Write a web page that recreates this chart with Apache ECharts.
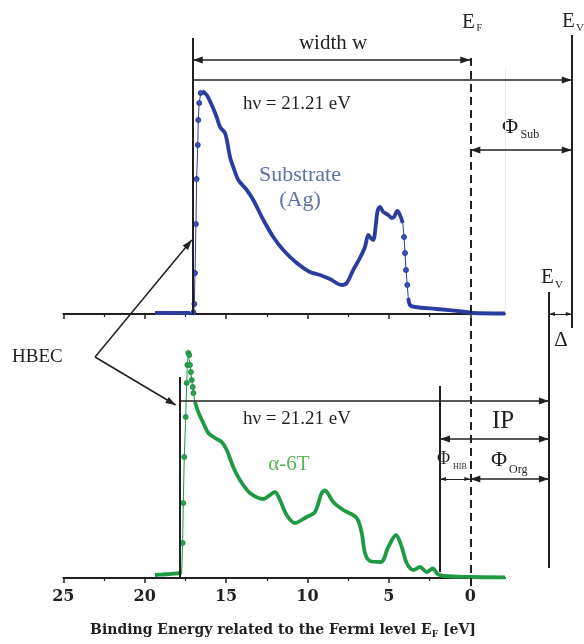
<!DOCTYPE html>
<html><head><meta charset="utf-8">
<script src="https://cdn.jsdelivr.net/npm/echarts@6/dist/echarts.min.js"></script>
<style>html,body{margin:0;padding:0;background:#fff}#c{width:584px;height:644px}</style>
</head><body><div id="c"></div>
<script>
// ---- data (binding energy in eV, intensity in arb. units) ----
const agEnergy = [19.37,18.8,18.14,17.6,17.22,17.01,16.95,16.91,16.85,16.81,16.74,16.71,16.65,16.56,16.46,16.19,15.88,15.58,15.37,15.07,14.93,14.76,14.56,14.25,13.73,13.33,12.71,12.10,11.49,10.66,9.85,9.23,8.62,7.90,7.59,7.19,6.78,6.47,6.27,6.12,5.96,5.79,5.71,5.55,5.34,5.04,4.83,4.69,4.48,4.32,4.15,4.07,4.01,3.95,3.87,3.81,3.70,3.40,2.06,0.22,-0.18,-2.13];
const agIntensity = [1,1,1.2,1,1,1.7,10,41,90,135,169,194,211,221,223,219,209,197,187,181,172,157,147,134,124,114,94,77,64,51,42,39,35,29,31,44,56,67,79,76,74,91,102,107,102,99,96,97,103,99,91,77,61,44,29,16,9,7,5,2,1,0.5];
const t6Energy = [19.37,18.9,18.46,18.0,17.73,17.67,17.63,17.57,17.48,17.42,17.38,17.32,17.26,17.22,17.16,17.11,17.05,17.01,16.91,16.71,16.40,16.09,15.68,15.27,14.96,14.56,14.15,13.53,12.71,12.30,12.00,11.69,11.28,10.77,10.05,9.54,9.13,8.93,8.42,7.80,6.98,6.67,6.47,6.16,5.48,5.04,4.56,4.21,3.91,3.50,3.09,2.68,2.31,2.01,1.66,0.02,-2.13];
const t6Intensity = [3,3.5,4,4.6,5.3,35,75,121,161,195,213,225,223,213,206,198,191,185,176,166,155,145,140,136,128,111,98,85,79,83,86,78,63,55,61,66,85,87.5,76,68,60,45,25,17,16,31,43,31,15,8,11,6,9.5,4,2,1,0.7];
const majorTicks = [25,20,15,10,5,0];
const minorTicks = [22.5,17.5,12.5,7.5,2.5];
// energy levels (eV relative to E_F)
const levelEF = 0;
const levelEvacSub = -6.23;
const levelEvacOrg = -4.83;
const cutoffSub = 17.05;
const cutoffOrg = 17.83;
const hibEdge = 1.86;
const hbecLabelE = 23.05;
const agSparse = [[16.5,17.1],[3.84,4.1]];
const t6Sparse = [[17.0,17.72]];

// ---- styling / layout ----
const ink = '#231f20';
const K = 16.28, X25 = 63.3, EMIN = -2.13;
const inR = (e, rs) => rs.some(r => e > r[0] && e < r[1]);
const pairs = (E, I) => E.map((e, i) => [e, I[i]]);
const thick = (E, I, rs) => E.map((e, i) => [e, inR(e, rs) ? '-' : I[i]]);

function xAxes(gi, labels) {
  return [{
    type:'value', gridIndex:gi, inverse:true, min:EMIN, max:25, position:'bottom',
    axisLine:{show:true, onZero:false, lineStyle:{color:ink, width:2}},
    axisTick:{show:true, customValues:majorTicks, length:5, lineStyle:{color:ink, width:1.5}},
    axisLabel:{show:labels, customValues:majorTicks, fontFamily:'DejaVu Serif', fontWeight:'bold', fontSize:16, color:ink, margin:11},
    splitLine:{show:false}
  },{
    type:'value', gridIndex:gi, inverse:true, min:EMIN, max:25, position:'bottom',
    axisLine:{show:false},
    axisTick:{show:true, customValues:minorTicks, length:3, lineStyle:{color:ink, width:1.2}},
    axisLabel:{show:false}, splitLine:{show:false}
  }];
}
const yAx = (gi, max, inv) => ({type:'value', gridIndex:gi, min:0, max:max, inverse:!!inv, show:false, splitLine:{show:false}});

function spec(E, I, rs, xi, yi, thickColor, dotColor, edgeColor) {
  return [{
    type:'line', xAxisIndex:xi, yAxisIndex:yi, data:thick(E, I, rs), connectNulls:false,
    smooth:0.3,
    showSymbol:false, symbol:'none', lineStyle:{color:thickColor, width:3.8}, silent:true, z:2
  },{
    type:'line', xAxisIndex:xi, yAxisIndex:yi, data:pairs(E, I),
    showSymbol:true, symbol:'circle',
    symbolSize:(v, p) => inR(E[p.dataIndex], rs) ? 5 : 0,
    itemStyle:{color:dotColor, borderColor:edgeColor, borderWidth:0.8},
    lineStyle:{color:thickColor, width:1}, silent:true, z:3
  }];
}

const endSym = k => k === 'big' ? {symbol:'triangle', symbolSize:[7,10], symbolOffset:[0,'50%']}
  : k === 'small' ? {symbol:'triangle', symbolSize:[4,6], symbolOffset:[0,'50%']}
  : {symbol:'none'};
const seg = (x1, y1, x2, y2, from, to, w, dash, col) => [
  Object.assign({coord:[x1,y1], lineStyle:{color:col||ink, width:w, type:dash||'solid', opacity:1}}, endSym(from)),
  Object.assign({coord:[x2,y2]}, endSym(to))
];
const annot = [
  seg(EMIN,67,EMIN,313,'none','none',1,'solid','#ececec'),
  seg(cutoffSub,38,cutoffSub,314,'none','none',2),
  seg(levelEvacSub,35,levelEvacSub,328,'none','none',2),
  seg(levelEvacOrg,292,levelEvacOrg,568,'none','none',2),
  seg(cutoffOrg,377,cutoffOrg,578,'none','none',2),
  seg(hibEdge,386,hibEdge,572,'none','none',2),
  seg(levelEF,58,levelEF,590,'none','none',2,[8,5]),
  seg(cutoffSub,60,levelEF,60,'big','big',1.5),
  seg(cutoffSub,80,levelEvacSub,80,'none','big',1.5),
  seg(levelEF,150,levelEvacSub,150,'big','big',1.5),
  seg(levelEvacOrg,314,levelEvacSub,314,'small','small',1),
  seg(cutoffOrg,401,levelEvacOrg,401,'none','big',1.5),
  seg(hibEdge,439,levelEvacOrg,439,'big','big',1.5),
  seg(hibEdge,479,levelEF,479,'small','small',1),
  seg(levelEF,479,levelEvacOrg,479,'big','big',1.5),
  seg(hbecLabelE,357,17.11,240,'none','big',1.5),
  seg(hbecLabelE,357,18.10,405,'none','big',1.5)
];

const subBlue = '#5b73a8', labGreen = '#5bb35a';
const texts = [
  ['width w',333,43,21,'center'],
  ['E',462,22,21], ['F',476.5,28,10],
  ['E',562,21,21], ['V',576,28,11],
  ['hν = 21.21 eV',243,104,19],
  ['Φ',502,127,22], ['Sub',520.5,135,12],
  ['Substrate',300,175,22,'center',subBlue], ['(Ag)',300,200,22,'center',subBlue],
  ['E',541,277,21], ['V',555,285,11],
  ['Δ',561,340,21,'center'],
  ['HBEC',12,357,19],
  ['hν = 21.21 eV',243,419,19],
  ['IP',492,421,25],
  ['α-6T',289,464,21,'center',labGreen],
  ['Φ',437,459,18], ['HIB',453,467,8],
  ['Φ',491,460,22], ['Org',509,470,12]
];
const gElems = texts.map(t => ({
  type:'text', x:t[1], y:t[2], silent:true,
  style:{text:t[0], fill:t[5]||ink, font:t[3]+'px "Liberation Serif"', align:t[4]||'left', verticalAlign:'middle'}
}));
gElems.push({
  type:'text', x:283, y:630, silent:true,
  style:{
    text:'{m|Binding Energy related to the Fermi level E}{s|F}{m| [eV]}',
    align:'center', verticalAlign:'middle',
    rich:{
      m:{fontFamily:'DejaVu Serif', fontWeight:'bold', fontSize:14, fill:ink, lineHeight:18},
      s:{fontFamily:'DejaVu Serif', fontWeight:'bold', fontSize:9, fill:ink, lineHeight:8, verticalAlign:'bottom'}
    }
  }
});

const chart = echarts.init(document.getElementById('c'), null, {renderer:'canvas'});
chart.setOption({
  animation:false,
  backgroundColor:'#ffffff',
  grid:[
    {left:X25, top:14, width:(25-EMIN)*K, height:300, outerBoundsMode:'none', containLabel:false},
    {left:X25, top:278, width:(25-EMIN)*K, height:300, outerBoundsMode:'none', containLabel:false},
    {left:X25, top:0, width:32*K, height:644, outerBoundsMode:'none', containLabel:false}
  ],
  xAxis:[].concat(xAxes(0,false), xAxes(1,true), [{type:'value', gridIndex:2, inverse:true, min:-7, max:25, show:false, splitLine:{show:false}}]),
  yAxis:[yAx(0,300), yAx(1,300), yAx(2,644,true)],
  series:[].concat(
    spec(agEnergy, agIntensity, agSparse, 0, 0, '#2b3d9f', '#3a52b8', '#1d2b85'),
    spec(t6Energy, t6Intensity, t6Sparse, 2, 1, '#1f9a45', '#2aa350', '#15813a'),
    [{
      type:'line', xAxisIndex:4, yAxisIndex:2, data:[], silent:true, color:ink, z:5,
      markLine:{silent:true, animation:false, symbol:['none','none'], label:{show:false}, emphasis:{disabled:true}, data:annot}
    }]
  ),
  graphic:{elements:gElems}
});
</script>
</body></html>
